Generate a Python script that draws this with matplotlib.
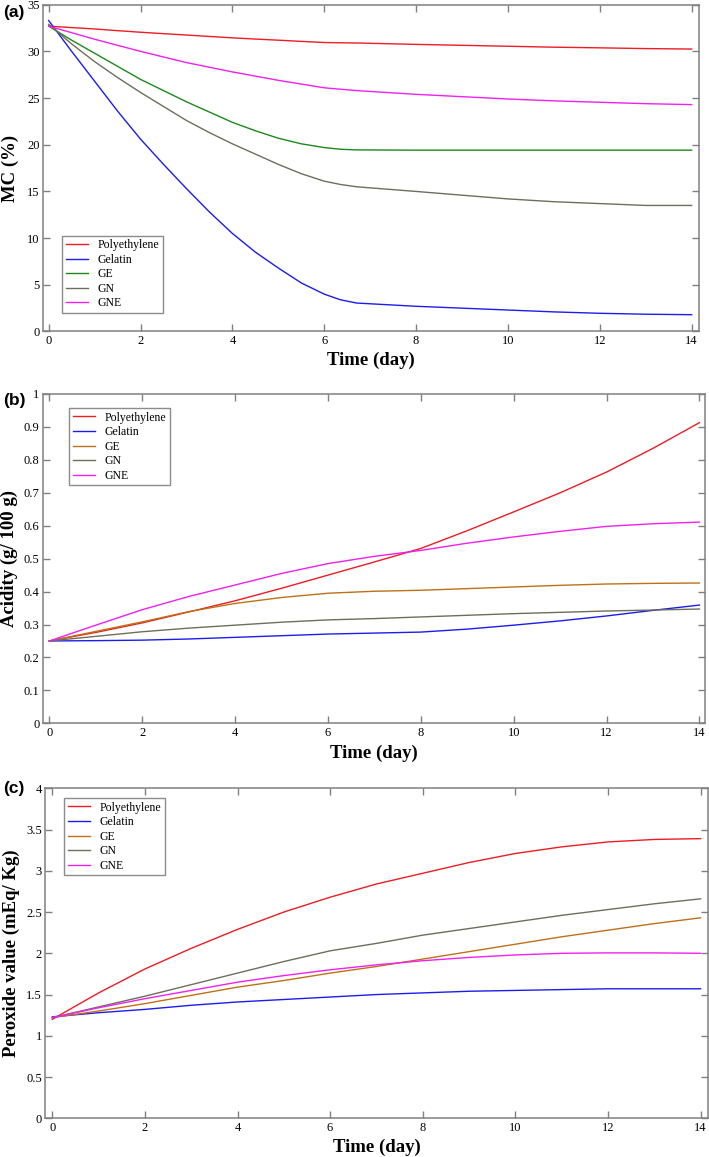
import matplotlib
matplotlib.use("Agg")
import matplotlib.pyplot as plt

plt.rcParams['font.family'] = ['Liberation Serif', 'DejaVu Serif']

labels = ["Polyethylene", "Gelatin", "GE", "GN", "GNE"]

# Panel (a): moisture content
days_a = [0, 0.5, 1, 1.5, 2, 2.5, 3, 3.5, 4, 4.5, 5, 5.5, 6, 6.35, 6.7, 8, 9, 10, 11, 12, 13, 14]
pe_a = [32.7, 32.55, 32.4, 32.22, 32.05, 31.9, 31.75, 31.6, 31.45, 31.32, 31.2, 31.07, 30.95,
        30.92, 30.9, 30.75, 30.65, 30.55, 30.45, 30.38, 30.3, 30.25]
gel_a = [33.3, 30.0, 26.8, 23.6, 20.6, 17.9, 15.3, 12.8, 10.5, 8.5, 6.8, 5.2, 4.0,
         3.4, 3.05, 2.7, 2.5, 2.3, 2.1, 1.95, 1.85, 1.8]
ge_a = [32.7, 31.2, 29.8, 28.4, 27.0, 25.8, 24.6, 23.5, 22.4, 21.5, 20.7, 20.1, 19.7,
        19.52, 19.45, 19.42, 19.42, 19.42, 19.42, 19.42, 19.42, 19.42]
gn_a = [32.9, 30.8, 28.9, 27.2, 25.6, 24.1, 22.6, 21.3, 20.1, 19.0, 17.9, 16.9, 16.1,
        15.75, 15.5, 15.0, 14.6, 14.2, 13.9, 13.7, 13.5, 13.5]
gne_a = [32.7, 32.0, 31.3, 30.65, 30.0, 29.4, 28.8, 28.3, 27.8, 27.35, 26.9, 26.5, 26.1,
         25.95, 25.8, 25.4, 25.15, 24.9, 24.7, 24.55, 24.4, 24.3]

# Panel (b): acidity
days_b = [0, 1, 2, 3, 4, 5, 6, 7, 8, 9, 10, 11, 12, 13, 14]
pe_b = [0.25, 0.276, 0.305, 0.338, 0.372, 0.41, 0.45, 0.49, 0.531, 0.585, 0.642, 0.70, 0.763, 0.835, 0.913]
gel_b = [0.25, 0.251, 0.2525, 0.256, 0.261, 0.266, 0.271, 0.274, 0.277, 0.286, 0.298, 0.311, 0.326, 0.343, 0.359]
ge_b = [0.25, 0.279, 0.308, 0.339, 0.364, 0.382, 0.395, 0.401, 0.404, 0.409, 0.414, 0.419, 0.423, 0.425, 0.426]
gn_b = [0.25, 0.264, 0.278, 0.289, 0.298, 0.307, 0.314, 0.318, 0.323, 0.328, 0.333, 0.337, 0.341, 0.344, 0.347]
gne_b = [0.25, 0.298, 0.345, 0.385, 0.42, 0.455, 0.485, 0.507, 0.525, 0.547, 0.566, 0.583, 0.598, 0.606, 0.611]

# Panel (c): peroxide value
days_c = [0, 1, 2, 3, 4, 5, 6, 7, 8, 9, 10, 11, 12, 13, 14]
pe_c = [1.2, 1.52, 1.81, 2.06, 2.29, 2.5, 2.68, 2.84, 2.97, 3.1, 3.21, 3.29, 3.35, 3.38, 3.39]
gel_c = [1.23, 1.28, 1.32, 1.37, 1.41, 1.44, 1.47, 1.5, 1.52, 1.54, 1.55, 1.56, 1.57, 1.57, 1.57]
ge_c = [1.22, 1.3, 1.39, 1.49, 1.59, 1.67, 1.76, 1.84, 1.93, 2.02, 2.11, 2.2, 2.28, 2.36, 2.43]
gn_c = [1.22, 1.35, 1.48, 1.62, 1.76, 1.9, 2.03, 2.12, 2.22, 2.3, 2.38, 2.46, 2.53, 2.6, 2.66]
gne_c = [1.22, 1.34, 1.45, 1.55, 1.65, 1.73, 1.8, 1.86, 1.91, 1.95, 1.98, 2.0, 2.005, 2.005, 2.0]

x_ticks = [0, 2, 4, 6, 8, 10, 12, 14]

colors_a = ['#ee1c24', '#1c1cf0', '#1a8a1a', '#6e6e5c', '#f020f0']
colors_bc = ['#ee1c24', '#1c1cf0', '#c07018', '#6e6e5c', '#f020f0']

W, H = 709, 1157
fig = plt.figure(figsize=(W / 100, H / 100), dpi=100)


def px_axes(left, top, right, bottom):
    return fig.add_axes([left / W, 1 - bottom / H, (right - left) / W, (bottom - top) / H])


panels = [
    dict(rect=(43, 4.7, 699, 331.5), xlim=(-0.124, 14.16), ylim=(0, 35),
         yticks=[0, 5, 10, 15, 20, 25, 30, 35], ytl=['0', '5', '10', '15', '20', '25', '30', '35'],
         days=days_a, series=[pe_a, gel_a, ge_a, gn_a, gne_a], colors=colors_a,
         ylabel='MC (%)', ylx=10, xly=360, tag='(a)', tag_y=12,
         leg=dict(loc='lower left', bbox_to_anchor=(0.029, 0.0566))),
    dict(rect=(43, 394, 705, 723.3), xlim=(-0.136, 14.12), ylim=(0, 1),
         yticks=[0, 0.1, 0.2, 0.3, 0.4, 0.5, 0.6, 0.7, 0.8, 0.9, 1.0],
         ytl=['0', '0.1', '0.2', '0.3', '0.4', '0.5', '0.6', '0.7', '0.8', '0.9', '1'],
         days=days_b, series=[pe_b, gel_b, ge_b, gn_b, gne_b], colors=colors_bc,
         ylabel='Acidity (g/ 100 g)', ylx=9, xly=753, tag='(b)', tag_y=400,
         leg=dict(loc='upper left', bbox_to_anchor=(0.0393, 0.9575))),
    dict(rect=(45.3, 788.3, 707.7, 1118.3), xlim=(-0.151, 14.155), ylim=(0, 4),
         yticks=[0, 0.5, 1, 1.5, 2, 2.5, 3, 3.5, 4],
         ytl=['0', '0.5', '1', '1.5', '2', '2.5', '3', '3.5', '4'],
         days=days_c, series=[pe_c, gel_c, ge_c, gn_c, gne_c], colors=colors_bc,
         ylabel='Peroxide value (mEq/ Kg)', ylx=11, xly=1147, tag='(c)', tag_y=789,
         leg=dict(loc='upper left', bbox_to_anchor=(0.0282, 0.9706))),
]

for p in panels:
    left, top, right, bottom = p['rect']
    ax = px_axes(*p['rect'])
    for vals, c, lab in zip(p['series'], p['colors'], labels):
        ax.plot(p['days'], vals, color=c, lw=1.0, label=lab)
    ax.set_xlim(*p['xlim'])
    ax.set_ylim(*p['ylim'])
    ax.set_xticks(x_ticks)
    ax.set_xticklabels([str(t) for t in x_ticks])
    ax.set_yticks(p['yticks'])
    ax.set_yticklabels(p['ytl'])
    ax.tick_params(direction='in', top=True, right=True, length=5, width=1,
                   color='#808080', labelsize=9, pad=2.5)
    for s in ax.spines.values():
        s.set_color('#808080')
        s.set_linewidth(1.1)
    ax.set_xlabel('Time (day)', fontsize=13.5, fontweight='bold', va='center')
    ax.xaxis.set_label_coords(0.5, (bottom - p['xly']) / (bottom - top))
    ax.set_ylabel(p['ylabel'], fontsize=13.5, fontweight='bold', va='center')
    ax.yaxis.set_label_coords((p['ylx'] - left) / (right - left), 0.5)
    leg = ax.legend(frameon=True, fancybox=False, fontsize=8.5, borderaxespad=0,
                    handlelength=1.9, handletextpad=0.8, labelspacing=0.22,
                    borderpad=0.3, **p['leg'])
    leg.get_frame().set_edgecolor('#707070')
    leg.get_frame().set_linewidth(1.0)
    fig.text(3 / W, 1 - p['tag_y'] / H, p['tag'], fontsize=12.5, fontweight='bold',
             family='Liberation Sans', ha='left', va='center')

fig.savefig('out.png', dpi=100)
